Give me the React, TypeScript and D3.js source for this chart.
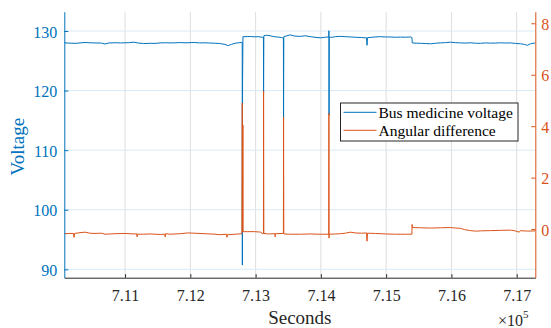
import React, { useEffect, useRef } from 'react';
import * as d3 from 'd3';

// [seconds, volts]
const voltagePoints: [number, number][] = [
  [710069, 128.02], [710156, 127.96], [710250, 127.93], [710310, 128.0], [710386, 128.07],
  [710460, 128.02], [710540, 128.0], [710640, 127.97], [710693, 127.82], [710740, 127.98],
  [710847, 128.03], [710930, 128.0], [711000, 128.02], [711070, 128.05], [711138, 128.12],
  [711200, 127.98], [711280, 127.9], [711384, 127.93], [711460, 127.92], [711537, 128.0],
  [711620, 128.03], [711690, 128.0], [711760, 128.02], [711844, 128.05], [711950, 128.02],
  [712058, 128.08], [712140, 128.0], [712227, 128.02], [712300, 127.98], [712380, 127.95],
  [712450, 127.9], [712530, 127.75], [712580, 127.55], [712630, 127.75], [712687, 127.95],
  [712760, 128.05], [712795, 128.1], [712797, 90.7], [712800, 121.0], [712806, 129.05],
  [712870, 129.05], [712917, 129.08], [712980, 129.02], [713040, 129.05], [713100, 128.95],
  [713120, 128.9], [713122, 119.5], [713126, 129.2], [713170, 129.3], [713224, 129.2],
  [713280, 129.05], [713331, 129.0], [713400, 128.9], [713426, 128.8], [713428, 115.2],
  [713432, 129.05], [713480, 129.2], [713530, 129.35], [713600, 129.15], [713684, 129.1],
  [713760, 129.2], [713837, 129.05], [713910, 128.95], [713991, 128.85], [714060, 128.95],
  [714121, 129.0], [714123, 130.05], [714125, 115.9], [714128, 128.95], [714180, 128.95],
  [714221, 129.05], [714300, 129.1], [714374, 129.05], [714450, 129.0], [714528, 128.95],
  [714620, 128.9], [714700, 128.85], [714707, 127.6], [714714, 128.88], [714780, 128.95],
  [714834, 129.0], [714900, 129.05], [714988, 129.0], [715060, 129.0], [715141, 128.95],
  [715220, 128.98], [715295, 128.95], [715370, 129.0], [715395, 128.9], [715400, 128.0],
  [715460, 127.95], [715524, 127.94], [715600, 127.9], [715678, 127.85], [715760, 127.95],
  [715831, 128.0], [715910, 128.05], [715985, 128.12], [716060, 128.05], [716138, 128.0],
  [716220, 127.98], [716291, 128.02], [716370, 127.95], [716445, 127.93], [716520, 128.0],
  [716598, 127.96], [716680, 127.98], [716751, 128.02], [716830, 127.98], [716905, 128.0],
  [716980, 127.92], [717058, 127.85], [717120, 127.75], [717165, 127.6], [717210, 127.85],
  [717285, 128.0],
];

// [seconds, angle]
const anglePoints: [number, number][] = [
  [710069, -0.18], [710156, -0.17], [710210, -0.17], [710218, -0.32], [710226, -0.17],
  [710310, -0.14], [710386, -0.12], [710460, -0.16], [710540, -0.17], [710640, -0.16],
  [710693, -0.2], [710847, -0.18], [711000, -0.17], [711138, -0.19], [711180, -0.18],
  [711184, -0.3], [711190, -0.2], [711280, -0.2], [711384, -0.19], [711537, -0.21],
  [711610, -0.2], [711614, -0.3], [711620, -0.18], [711690, -0.2], [711844, -0.18],
  [711960, -0.15], [712058, -0.16], [712227, -0.18], [712380, -0.2], [712450, -0.22],
  [712555, -0.2], [712560, -0.32], [712565, -0.22], [712687, -0.2], [712790, -0.18],
  [712796, 4.9], [712799, -0.1], [712805, 4.05], [712809, -0.1], [712870, -0.1],
  [712980, -0.1], [713040, -0.11], [713080, -0.12], [713100, -0.17], [713120, -0.17],
  [713122, 5.37], [713126, -0.17], [713200, -0.19], [713280, -0.18], [713296, -0.18],
  [713300, -0.3], [713304, -0.18], [713426, -0.17], [713428, 4.35], [713432, -0.19],
  [713530, -0.2], [713684, -0.2], [713837, -0.19], [713991, -0.2], [714121, -0.2],
  [714123, 4.5], [714125, -0.35], [714128, -0.2], [714221, -0.19], [714300, -0.18],
  [714374, -0.16], [714450, -0.12], [714528, -0.15], [714620, -0.16], [714700, -0.15],
  [714707, -0.47], [714714, -0.16], [714834, -0.17], [714988, -0.19], [715141, -0.2],
  [715295, -0.2], [715395, -0.2], [715397, 0.18], [715402, 0.06], [715524, 0.05],
  [715678, 0.04], [715831, 0.05], [715985, 0.06], [716060, 0.04], [716138, 0.03],
  [716200, -0.02], [716291, -0.06], [716370, -0.08], [716445, -0.07], [716598, -0.06],
  [716751, -0.05], [716905, -0.04], [716960, -0.06], [717040, -0.12], [717058, -0.06],
  [717165, -0.08], [717285, -0.07],
];

const xTicks = [711000, 712000, 713000, 714000, 715000, 716000, 717000];
const leftTicks = [90, 100, 110, 120, 130];
const rightTicks = [0, 2, 4, 6, 8];
const legendLabels = ['Bus medicine voltage', 'Angular difference'];

const BLUE = '#0072BD';
const ORANGE = '#D95319';
const DARK = '#262626';
const FONT = '"Liberation Serif", "Times New Roman", serif';

const W = 551;
const H = 328;
const margin = { top: 11.7, right: 15.7, bottom: 50.3, left: 64.3 };

const App = () => {
  const svgRef = useRef<SVGSVGElement>(null);

  useEffect(() => {
    const svg = d3.select(svgRef.current);
    svg.selectAll('*').remove();

    const x0 = margin.left;
    const x1 = W - margin.right;
    const y0 = H - margin.bottom;
    const y1 = margin.top;

    const x = d3.scaleLinear().domain([710069, 717285]).range([x0, x1]);
    const yL = d3.scaleLinear().domain([88.59, 133.24]).range([y0, y1]);
    const yR = d3.scaleLinear().domain([-1.89, 8.45]).range([y0, y1]);

    // grid
    const grid = svg.append('g');
    grid.selectAll('.vg')
      .data(xTicks)
      .enter()
      .append('line')
      .attr('x1', d => x(d)).attr('x2', d => x(d))
      .attr('y1', y1).attr('y2', y0)
      .attr('stroke', '#dedede').attr('stroke-width', 1);
    grid.selectAll('.hg')
      .data(leftTicks)
      .enter()
      .append('line')
      .attr('x1', x0).attr('x2', x1)
      .attr('y1', d => yL(d)).attr('y2', d => yL(d))
      .attr('stroke', '#d9eaf5').attr('stroke-width', 1);

    svg.append('clipPath').attr('id', 'plot-clip')
      .append('rect')
      .attr('x', x0).attr('y', y1)
      .attr('width', x1 - x0).attr('height', y0 - y1);

    const lineL = d3.line<[number, number]>().x(d => x(d[0])).y(d => yL(d[1]));
    const lineR = d3.line<[number, number]>().x(d => x(d[0])).y(d => yR(d[1]));

    svg.append('path')
      .datum(voltagePoints)
      .attr('clip-path', 'url(#plot-clip)')
      .attr('d', lineL)
      .attr('fill', 'none')
      .attr('stroke', BLUE)
      .attr('stroke-width', 1);

    svg.append('path')
      .datum(anglePoints)
      .attr('clip-path', 'url(#plot-clip)')
      .attr('d', lineR)
      .attr('fill', 'none')
      .attr('stroke', ORANGE)
      .attr('stroke-width', 1);

    // axes
    const xAxis = d3.axisBottom(x)
      .tickValues(xTicks)
      .tickSizeInner(-3.5)
      .tickSizeOuter(0)
      .tickPadding(0)
      .tickFormat(d => (+d / 1e5).toFixed(2));
    const gx = svg.append('g')
      .attr('transform', `translate(0,${y0})`)
      .attr('font-family', FONT)
      .call(xAxis);
    gx.select('.domain').attr('stroke', DARK);
    gx.selectAll('.tick line').attr('stroke', DARK);
    gx.selectAll('.tick text')
      .attr('y', 23).attr('dy', null)
      .attr('fill', DARK)
      .style('font-family', FONT).style('font-size', '16px');

    const yAxisL = d3.axisLeft(yL)
      .tickValues(leftTicks)
      .tickSizeInner(-4)
      .tickSizeOuter(0)
      .tickPadding(7);
    const gl = svg.append('g')
      .attr('transform', `translate(${x0},0)`)
      .attr('font-family', FONT)
      .call(yAxisL);
    gl.select('.domain').attr('stroke', BLUE);
    gl.selectAll('.tick line').attr('stroke', BLUE);
    gl.selectAll('.tick text')
      .attr('dy', null).attr('y', 6)
      .attr('fill', BLUE)
      .style('font-family', FONT).style('font-size', '16px');

    const yAxisR = d3.axisRight(yR)
      .tickValues(rightTicks)
      .tickSizeInner(-4)
      .tickSizeOuter(0)
      .tickPadding(6);
    const gr = svg.append('g')
      .attr('transform', `translate(${x1},0)`)
      .attr('font-family', FONT)
      .call(yAxisR);
    gr.select('.domain').attr('stroke', ORANGE);
    gr.selectAll('.tick line').attr('stroke', ORANGE);
    gr.selectAll('.tick text')
      .attr('dy', null).attr('y', 6)
      .attr('fill', ORANGE)
      .style('font-family', FONT).style('font-size', '16px');

    // axis labels
    svg.append('text')
      .attr('transform', `translate(23.5,${(y0 + y1) / 2 + 2}) rotate(-90)`)
      .attr('text-anchor', 'middle')
      .attr('fill', BLUE)
      .style('font-family', FONT).style('font-size', '19px')
      .text('Voltage');

    svg.append('text')
      .attr('x', (x0 + x1) / 2)
      .attr('y', 324)
      .attr('text-anchor', 'middle')
      .attr('fill', DARK)
      .style('font-family', FONT).style('font-size', '19px')
      .text('Seconds');

    const exp = svg.append('text')
      .attr('x', 498)
      .attr('y', 326)
      .attr('fill', DARK)
      .style('font-family', FONT).style('font-size', '16px');
    exp.append('tspan').text('×10');
    exp.append('tspan').attr('dy', -8).style('font-size', '11px').text('5');

    // legend
    const lg = svg.append('g');
    lg.append('rect')
      .attr('x', 340.5).attr('y', 103)
      .attr('width', 177.5).attr('height', 38)
      .attr('fill', 'white')
      .attr('stroke', DARK).attr('stroke-width', 1);
    const colors = [BLUE, ORANGE];
    legendLabels.forEach((label, i) => {
      const ly = 112.3 + i * 18;
      lg.append('line')
        .attr('x1', 343.5).attr('x2', 376.5)
        .attr('y1', ly).attr('y2', ly)
        .attr('stroke', colors[i]).attr('stroke-width', 1);
      lg.append('text')
        .attr('x', 378.5).attr('y', ly + 5.5)
        .attr('fill', 'black')
        .style('font-family', FONT).style('font-size', '15.5px')
        .text(label);
    });
  }, []);

  return (
    <svg
      ref={svgRef}
      width={W}
      height={H}
      style={{ position: 'absolute', left: 0, top: 0, background: 'white' }}
    ></svg>
  );
};

export default App;
